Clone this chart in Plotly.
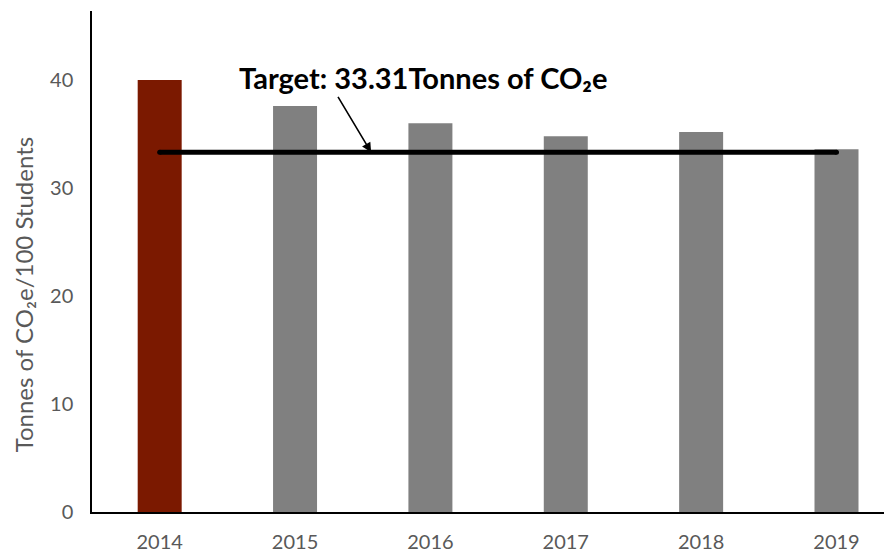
import plotly.graph_objects as go

years = ["2014", "2015", "2016", "2017", "2018", "2019"]
emissions = [40.0, 37.6, 36.0, 34.8, 35.2, 33.6]
bar_colors = ["#7B1900", "#808080", "#808080", "#808080", "#808080", "#808080"]
target_value = 33.31
y_ticks = [0, 10, 20, 30, 40]

FONT = "Lato"
GRAY = "#595959"

fig = go.Figure()
fig.add_trace(go.Bar(x=years, y=emissions, marker=dict(color=bar_colors, line=dict(width=0)),
                     showlegend=False))
fig.add_trace(go.Scatter(x=[years[0], years[-1]], y=[target_value, target_value],
                         mode="lines+markers", line=dict(color="black", width=5),
                         marker=dict(color="black", size=5), showlegend=False))

fig.add_annotation(text="<b>Target: 33.31Tonnes of CO₂e</b>", xref="paper", yref="paper",
                   x=0.181, y=0.868, xanchor="left", yanchor="middle", showarrow=False,
                   font=dict(family=FONT, size=29, color="black"))
fig.add_annotation(text="", x=1.562, y=target_value, xref="x", yref="y",
                   ax=-34, ay=-57, showarrow=True, arrowhead=2, arrowsize=1.2,
                   arrowwidth=1.6, arrowcolor="black", standoff=0)
fig.add_annotation(text="Tonnes of CO₂e/100 Students", xref="paper", yref="paper",
                   x=-0.086, y=0.433, xanchor="center", yanchor="middle", textangle=-90,
                   showarrow=False, font=dict(family=FONT, size=24, color=GRAY))

# page body has an 8px margin; figure is sized so the plot area lands at x 92-892, y 11-512
fig.update_layout(
    width=884, height=544,
    margin=dict(l=84, r=0, t=3, b=40, autoexpand=False),
    plot_bgcolor="white", paper_bgcolor="white",
    bargap=0.675,
    font=dict(family=FONT, size=20, color=GRAY),
    xaxis=dict(type="category", range=[-0.5, 5.41], showline=True, linecolor="black",
               linewidth=1.5, ticks="", showgrid=False, ticklabelstandoff=11,
               automargin=False,
               tickfont=dict(family=FONT, size=20, color=GRAY)),
    yaxis=dict(range=[0, 46.4], tickvals=y_ticks, showline=True, linecolor="black",
               linewidth=1.5, ticks="", showgrid=False, zeroline=False,
               ticklabelstandoff=13, automargin=False,
               tickfont=dict(family=FONT, size=20, color=GRAY)),
)

fig.write_html("out.html")
